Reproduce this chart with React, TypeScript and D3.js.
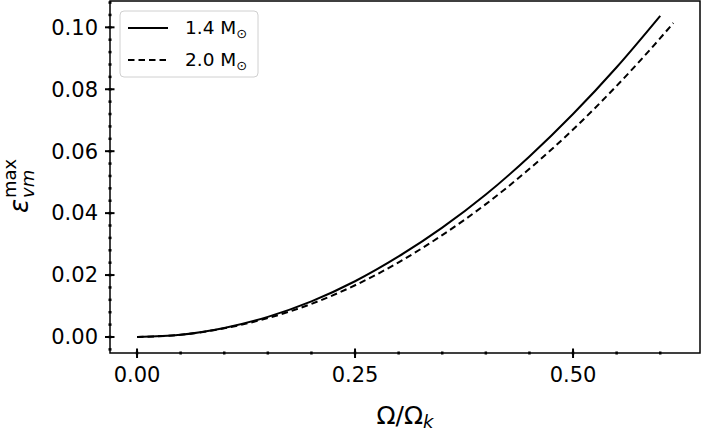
import { useEffect, useRef } from "react";
import * as d3 from "d3";

// Ω/Ω_k sample points
const omega14 = [0, 0.05, 0.1, 0.15, 0.2, 0.25, 0.3, 0.35, 0.4, 0.45, 0.5, 0.55, 0.6];
const eps14 = [0, 0.0007, 0.0029, 0.0065, 0.0115, 0.018, 0.026, 0.0353, 0.046, 0.0583, 0.072, 0.0871, 0.1037];

const omega20 = [0, 0.05, 0.1, 0.15, 0.2, 0.25, 0.3, 0.35, 0.4, 0.45, 0.5, 0.55, 0.6, 0.615];
const eps20 = [0, 0.0007, 0.0028, 0.0061, 0.0107, 0.0167, 0.0241, 0.0329, 0.0429, 0.0543, 0.067, 0.0811, 0.0965, 0.1014];

const seriesLabels = ["1.4", "2.0"];

const xTicks = [0, 0.25, 0.5];
const yTicks = [0, 0.02, 0.04, 0.06, 0.08, 0.1];

const W = 702;
const H = 433;
const FONT = "'DejaVu Sans', sans-serif";

export default function App() {
  const svgRef = useRef<SVGSVGElement>(null);

  useEffect(() => {
    if (!svgRef.current) return;
    const svg = d3.select(svgRef.current);
    svg.selectAll("*").remove();

    const left = 110;
    const right = 700;
    const top = 1;
    const bottom = 353;

    const x = d3.scaleLinear().domain([-0.031, 0.6456]).range([left, right]);
    const y = d3.scaleLinear().domain([-0.00517, 0.1085]).range([bottom, top]);

    // frame
    svg
      .append("rect")
      .attr("x", left)
      .attr("y", top)
      .attr("width", right - left)
      .attr("height", bottom - top)
      .attr("fill", "none")
      .attr("stroke", "#000")
      .attr("stroke-width", 1.5);

    // curves
    const line = d3
      .line<[number, number]>()
      .x((d) => x(d[0]))
      .y((d) => y(d[1]))
      .curve(d3.curveMonotoneX);

    const pts14 = omega14.map((o, i) => [o, eps14[i]] as [number, number]);
    const pts20 = omega20.map((o, i) => [o, eps20[i]] as [number, number]);

    svg
      .append("path")
      .attr("d", line(pts14))
      .attr("fill", "none")
      .attr("stroke", "#000")
      .attr("stroke-width", 2);

    svg
      .append("path")
      .attr("d", line(pts20))
      .attr("fill", "none")
      .attr("stroke", "#000")
      .attr("stroke-width", 2)
      .attr("stroke-dasharray", "6.5,4");

    // y axis
    const yMinor = d3.range(-0.004, 0.1085, 0.004).filter((v) => v > -0.00517);
    const gy = svg.append("g").attr("transform", `translate(${left},0)`);
    gy.selectAll(".minor")
      .data(yMinor)
      .enter()
      .append("line")
      .attr("x1", -1.5)
      .attr("x2", 1.5)
      .attr("y1", (d) => y(d))
      .attr("y2", (d) => y(d))
      .attr("stroke", "#000")
      .attr("stroke-width", 2.5);
    gy.selectAll(".major")
      .data(yTicks)
      .enter()
      .append("line")
      .attr("x1", -5)
      .attr("x2", 4.5)
      .attr("y1", (d) => y(d))
      .attr("y2", (d) => y(d))
      .attr("stroke", "#000")
      .attr("stroke-width", 2);
    gy.selectAll(".lbl")
      .data(yTicks)
      .enter()
      .append("text")
      .attr("x", -12)
      .attr("y", (d) => y(d))
      .attr("dy", "0.35em")
      .attr("text-anchor", "end")
      .style("font-family", FONT)
      .style("font-size", "21px")
      .text((d) => d3.format(".2f")(d));

    // x axis
    const xMinor = d3.range(0, 0.6456, 0.05);
    const gx = svg.append("g").attr("transform", `translate(0,${bottom})`);
    gx.selectAll(".minor")
      .data(xMinor)
      .enter()
      .append("line")
      .attr("x1", (d) => x(d))
      .attr("x2", (d) => x(d))
      .attr("y1", -1.5)
      .attr("y2", 1.5)
      .attr("stroke", "#000")
      .attr("stroke-width", 2.5);
    gx.selectAll(".major")
      .data(xTicks)
      .enter()
      .append("line")
      .attr("x1", (d) => x(d))
      .attr("x2", (d) => x(d))
      .attr("y1", -4.5)
      .attr("y2", 5)
      .attr("stroke", "#000")
      .attr("stroke-width", 2);
    gx.selectAll(".lbl")
      .data(xTicks)
      .enter()
      .append("text")
      .attr("x", (d) => x(d))
      .attr("y", 29)
      .attr("text-anchor", "middle")
      .style("font-family", FONT)
      .style("font-size", "21px")
      .text((d) => d3.format(".2f")(d));

    // x label Ω/Ω_k
    const xl = svg
      .append("text")
      .attr("x", (left + right) / 2)
      .attr("y", 424)
      .attr("text-anchor", "middle")
      .style("font-family", FONT)
      .style("font-size", "25px");
    xl.append("tspan").text("Ω/Ω");
    xl.append("tspan")
      .attr("dy", 4)
      .style("font-size", "18px")
      .style("font-style", "italic")
      .text("k");

    // y label ε_vm^max
    const yl = svg
      .append("g")
      .attr("transform", `translate(28,${(top + bottom) / 2}) rotate(-90)`)
      .style("font-family", FONT);
    yl.append("text")
      .attr("x", -36)
      .attr("y", 0)
      .style("font-size", "26px")
      .style("font-style", "italic")
      .text("ε");
    yl.append("text")
      .attr("x", -21)
      .attr("y", 6)
      .style("font-size", "18px")
      .style("font-style", "italic")
      .text("vm");
    yl.append("text")
      .attr("x", -21)
      .attr("y", -12)
      .style("font-size", "18px")
      .text("max");

    // legend
    const lg = svg.append("g");
    lg.append("rect")
      .attr("x", 120)
      .attr("y", 11)
      .attr("width", 138)
      .attr("height", 66)
      .attr("rx", 4)
      .attr("fill", "#fff")
      .attr("fill-opacity", 0.8)
      .attr("stroke", "#d0d0d0")
      .attr("stroke-width", 1);
    const rows = [28, 60];
    seriesLabels.forEach((name, i) => {
      lg.append("line")
        .attr("x1", 128)
        .attr("x2", 168)
        .attr("y1", rows[i])
        .attr("y2", rows[i])
        .attr("stroke", "#000")
        .attr("stroke-width", 2)
        .attr("stroke-dasharray", i === 1 ? "6.5,4" : null);
      const t = lg
        .append("text")
        .attr("x", 185)
        .attr("y", rows[i])
        .attr("dy", "0.35em")
        .style("font-family", FONT)
        .style("font-size", "18.5px");
      t.append("tspan").text(`${name} M`);
      t.append("tspan").attr("dy", 4).style("font-size", "13px").text("⊙");
    });
  }, []);

  return (
    <div style={{ position: "absolute", left: 0, top: 0 }}>
      <svg ref={svgRef} width={W} height={H} viewBox={`0 0 ${W} ${H}`} style={{ display: "block", background: "#fff" }} />
    </div>
  );
}
